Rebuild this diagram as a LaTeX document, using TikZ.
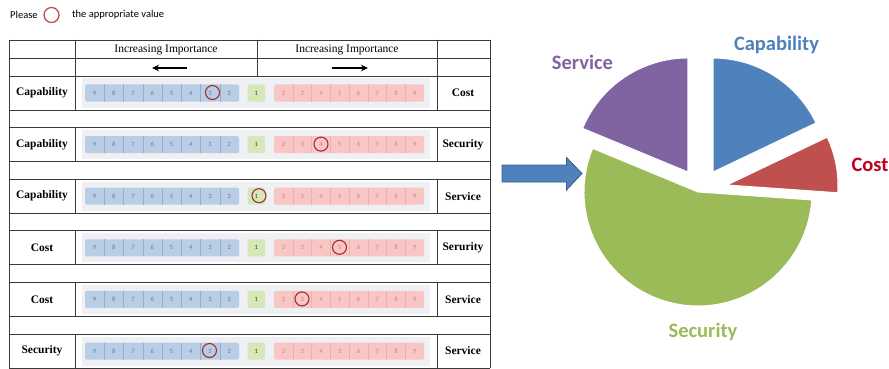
\documentclass[tikz,border=0pt]{standalone}
\usepackage{fontspec}
\setmainfont{Liberation Serif}
\newfontfamily\calfont{Carlito}
\usetikzlibrary{arrows.meta}

\definecolor{gridline}{HTML}{3A3A3A}
\definecolor{stripbg}{HTML}{EEF0F3}
\definecolor{bluecell}{HTML}{B9CDE5}
\definecolor{bluesep}{HTML}{93AECF}
\definecolor{bluenum}{HTML}{5B7DA6}
\definecolor{pinkcell}{HTML}{F9C6C6}
\definecolor{pinksep}{HTML}{F0AEAE}
\definecolor{pinknum}{HTML}{E07A7A}
\definecolor{greencell}{HTML}{D6E7B8}
\definecolor{selring}{HTML}{9E2F36}
\definecolor{pieblue}{HTML}{4F81BD}
\definecolor{piered}{HTML}{C0504D}
\definecolor{piegreen}{HTML}{9BBB59}
\definecolor{piepurple}{HTML}{8064A2}
\definecolor{costlabel}{HTML}{C00020}
\definecolor{arrowedge}{HTML}{385D8A}

\tikzset{
  rule/.style={draw=gridline, line width=0.8pt},
  headtext/.style={font=\fontsize{11.5}{13}\selectfont, inner sep=0},
  rowlabel/.style={font=\bfseries\fontsize{11.5}{13}\selectfont, inner sep=0},
  cellnum/.style={font=\calfont\fontsize{6.5}{7}\selectfont, inner sep=0},
  selring/.style={draw=selring, line width=1.1pt, circle, minimum size=14pt, inner sep=0},
  hinttext/.style={font=\calfont\fontsize{10.5}{12}\selectfont, inner sep=0, anchor=west},
  pielabel/.style={font=\calfont\bfseries\fontsize{20.5}{22}\selectfont, inner sep=0},
  slice/.style={draw=white, line width=1pt},
}

\begin{document}
\begin{tikzpicture}[x=1pt, y=-1pt]
\useasboundingbox (0,0) rectangle (889,369);

% instruction line
\node[hinttext] (please) at (10,15) {Please};
\node[draw=piered, line width=1.3pt, circle, minimum size=15pt, inner sep=0] (ring) at (51.5,15) {};
\node[hinttext] (hint) at (72,15) {the appropriate value};

% header rows
\draw[rule] (9,40) -- (490,40);
\draw[rule] (9,58) -- (490,58);
\draw[rule] (9,76) -- (490,76);
\draw[rule] (75,40) -- (75,76);
\draw[rule] (257,40) -- (257,76);
\draw[rule] (437,40) -- (437,76);
\node[headtext] (hl) at (166,49.5) {Increasing Importance};
\node[headtext] (hr) at (347,49.5) {Increasing Importance};
\coordinate (al1) at (187,68);
\coordinate (al2) at (152,68);
\coordinate (ar1) at (332,68);
\coordinate (ar2) at (368,68);
\draw[-{Stealth[length=7pt,width=6.5pt]}, line width=1.4pt] (al1) -- (al2);
\draw[-{Stealth[length=7pt,width=6.5pt]}, line width=1.4pt] (ar1) -- (ar2);

% outer frame sides
\draw[rule] (9,40) -- (9,368);
\draw[rule] (490,40) -- (490,368);

% comparison rows: top / left label / right label / ring x
\foreach \t/\lft/\rgt/\sx [count=\r] in {
    76/Capability/Cost/212.5,
    127.6/Capability/Security/321,
    179.2/Capability/Service/259,
    230.8/Cost/Serurity/339.5,
    282.4/Cost/Service/302,
    334/Security/Service/209.5}{
  \pgfmathsetmacro{\b}{\t+34}
  \pgfmathsetmacro{\c}{\t+17}
  \draw[rule] (9,\t) -- (490,\t);
  \draw[rule] (9,\b) -- (490,\b);
  \draw[rule] (75,\t) -- (75,\b);
  \draw[rule] (437,\t) -- (437,\b);
  \node[rowlabel] (lab\r) at (42,\c) {\lft};
  \node[rowlabel] (rab\r) at (463,\c) {\rgt};
  % scale background
  \fill[stripbg] (82,\t+2.5) rectangle (430,\b-2.5);
  % left (blue) part
  \fill[bluecell, rounded corners=1.5pt] (85,\c-8.5) rectangle (239,\c+8.5);
  \foreach \k in {1,...,7}{
    \draw[bluesep, line width=0.5pt] (85+19.25*\k,\c-8.5) -- (85+19.25*\k,\c+8.5);
  }
  \foreach \k in {0,...,7}{
    \pgfmathtruncatemacro{\v}{9-\k}
    \node[cellnum, text=bluenum] (b\r-\k) at (85+19.25*\k+9.6,\c) {\v};
  }
  % equal importance
  \fill[greencell, rounded corners=1.5pt] (247.5,\c-8.5) rectangle (265,\c+8.5);
  \node[cellnum, text=black!75] (g\r) at (256.2,\c) {1};
  % right (pink) part
  \fill[pinkcell, rounded corners=1.5pt] (274,\c-8.5) rectangle (424,\c+8.5);
  \foreach \k in {1,...,7}{
    \draw[pinksep, line width=0.4pt] (274+18.75*\k,\c-8.5) -- (274+18.75*\k,\c+8.5);
  }
  \foreach \k in {0,...,7}{
    \pgfmathtruncatemacro{\v}{\k+2}
    \node[cellnum, text=pinknum] (p\r-\k) at (274+18.75*\k+9.4,\c) {\v};
  }
  % chosen value
  \node[selring] (sel\r) at (\sx,\c-0.5) {};
}

% block arrow
\fill[pieblue, draw=arrowedge, line width=0.8pt]
  (502,165) -- (566.5,165) -- (566.5,157.5) -- (582,173.5)
  -- (566.5,190) -- (566.5,182) -- (502,182) -- cycle;

% exploded pie
\begin{scope}[shift={(698,192)}, yscale=-1]
  \filldraw[slice, fill=piegreen] (0,0) -- (157.5:114)
    arc[start angle=157.5, end angle=356, radius=114] -- cycle;
  \filldraw[slice, fill=piepurple] (116.6:22.4) -- ++(90:114)
    arc[start angle=90, end angle=157.5, radius=114] -- cycle;
  \filldraw[slice, fill=pieblue] (53:25) -- ++(25.5:114)
    arc[start angle=25.5, end angle=90, radius=114] -- cycle;
  \filldraw[slice, fill=piered] (13.6:29.8) -- ++(-4:111)
    arc[start angle=-4, end angle=25.5, radius=111] -- cycle;
\end{scope}

\node[pielabel, text=pieblue] (capl) at (776.5,45) {Capability};
\node[pielabel, text=piepurple] (serl) at (582.5,62) {Service};
\node[pielabel, text=costlabel] (costl) at (870,164.5) {Cost};
\node[pielabel, text=piegreen] (secl) at (703,332) {Security};
\end{tikzpicture}
\end{document}
